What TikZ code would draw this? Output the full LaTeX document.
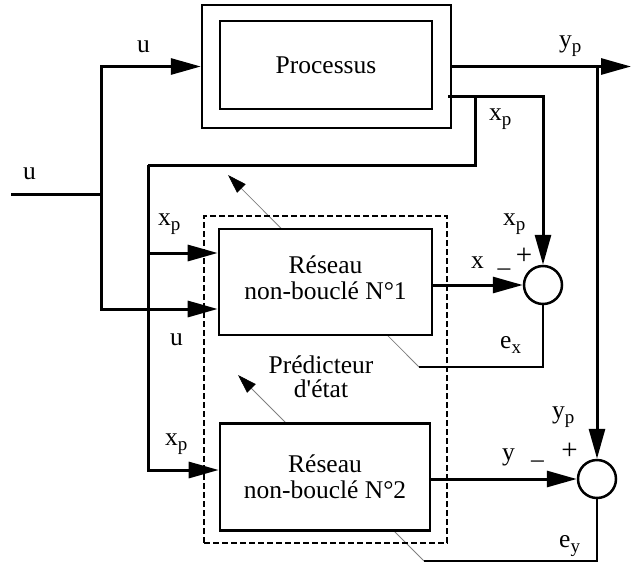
\documentclass[tikz,border=0pt]{standalone}
\usepackage{fontspec}
\setmainfont{Liberation Serif}
\usetikzlibrary{arrows.meta,calc}
\newcommand\lsub[1]{\raisebox{-5pt}{\fontsize{19}{19}\selectfont #1}}

\begin{document}
\begin{tikzpicture}[x=1pt, y=-1pt, >={Triangle[length=30pt,width=16pt]},
  font=\fontsize{25.5}{26}\selectfont,
  sig/.style={line width=3pt},
  blok/.style={draw, line width=2.6pt, fill=white, align=center},
  sumnode/.style={circle, draw, line width=2.5pt, fill=white, minimum size=38pt, inner sep=0pt},
  err/.style={line width=1.3pt},
  back/.style={draw=gray, line width=0.8pt, -{Triangle[length=19pt,width=12pt,color=black]}},
  dashbox/.style={draw, line width=1.7pt, dash pattern=on 6pt off 3pt},
  lbl/.style={anchor=base west, inner sep=0pt}]
  \useasboundingbox (0,0) rectangle (632,562);

  % ---------------- junctions ----------------
  \coordinate (uin) at (11,194);
  \coordinate (ujoin) at (101,194);
  \coordinate (xpout) at (448,96);
  \coordinate (xpjoin) at (475,96);
  \coordinate (xpleft) at (148,165);
  \coordinate (ypend) at (631,66.5);
  \coordinate (ypjoin) at (597,66.5);
  \coordinate (excorner) at (419,367);
  \coordinate (extip) at (228,175);
  \coordinate (eycorner) at (424,561);
  \coordinate (eytip) at (238,375);

  % error going back through the networks (under the boxes)
  \draw[back] (excorner) -- (extip);
  \draw[back] (eycorner) -- (eytip);

  % ---------------- blocks ----------------
  \node[dashbox, minimum width=243pt, minimum height=327pt] (predbox) at (325.5,379.5) {};
  \node[draw, line width=2.4pt, minimum width=249pt, minimum height=123pt] (procout) at (326.5,66.5) {};
  \node[draw, line width=2.4pt, minimum width=212pt, minimum height=88pt] (procin) at (326,65) {Processus};
  \node[blok, minimum width=213pt, minimum height=106pt, text depth=8pt] (res1) at (325.5,282) {R\'eseau\\non-boucl\'e N\textdegree 1};
  \node[blok, minimum width=210pt, minimum height=107pt] (res2) at (325,477) {R\'eseau\\non-boucl\'e N\textdegree 2};
  \node[align=center, font=\fontsize{25.5}{24}\selectfont] (pred) at (321,377) {Pr\'edicteur\\d\textquotesingle\'etat};
  \node[sumnode] (sum1) at (543,285) {};
  \node[sumnode] (sum2) at (597,479) {};

  % ---------------- signals ----------------
  \draw[sig] (uin) -- (ujoin);
  \draw[sig, ->] (ujoin) |- (procout.west);
  \draw[sig, ->] (ujoin) |- ($(res1.west)+(0,27)$);
  \draw[sig, ->] (procout.east) -- (ypend);
  \draw[sig, ->] (ypjoin) -- (sum2);
  \draw[sig, ->] (xpout) -| (sum1);
  \draw[sig] (xpjoin) |- (xpleft);
  \draw[sig, ->] (xpleft) |- ($(res2.west)+(0,-7)$);
  \draw[sig, ->] (xpleft |- res1.west) ++(0,-29) -- ($(res1.west)+(0,-29)$);
  \draw[sig, ->] (res1.east |- sum1) -- (sum1);
  \draw[sig, ->] (res2.east |- sum2) -- (sum2);
  \draw[err] (sum1) |- (excorner);
  \draw[err] (sum2) |- (eycorner);

  % ---------------- labels ----------------
  \node[lbl] (lbu1) at (137,52) {u};
  \node[lbl] (lbu0) at (23,179) {u};
  \node[lbl] (lbyp0) at (559,47) {y\lsub{p}};
  \node[lbl] (lbxp0) at (489,120) {x\lsub{p}};
  \node[lbl] (lbxp1) at (158,225) {x\lsub{p}};
  \node[lbl] (lbu2) at (170,345) {u};
  \node[lbl] (lbxp2) at (165,445) {x\lsub{p}};
  \node[lbl] (lbxp3) at (503,225) {x\lsub{p}};
  \node[lbl] (lbx) at (471,268) {x};
  \node[anchor=base] (minus1) at (504,275) {\textendash};
  \node[anchor=base, font=\fontsize{29}{29}\selectfont] (plus1) at (524,264.5) {+};
  \node[lbl] (lbex) at (500,348) {e\lsub{x}};
  \node[lbl] (lbyp1) at (552,418) {y\lsub{p}};
  \node[lbl] (lby) at (502,460) {y};
  \node[anchor=base] (minus2) at (537.5,467) {\textendash};
  \node[anchor=base, font=\fontsize{29}{29}\selectfont] (plus2) at (569.5,459.5) {+};
  \node[lbl] (lbey) at (559,547) {e\lsub{y}};
\end{tikzpicture}
\end{document}
